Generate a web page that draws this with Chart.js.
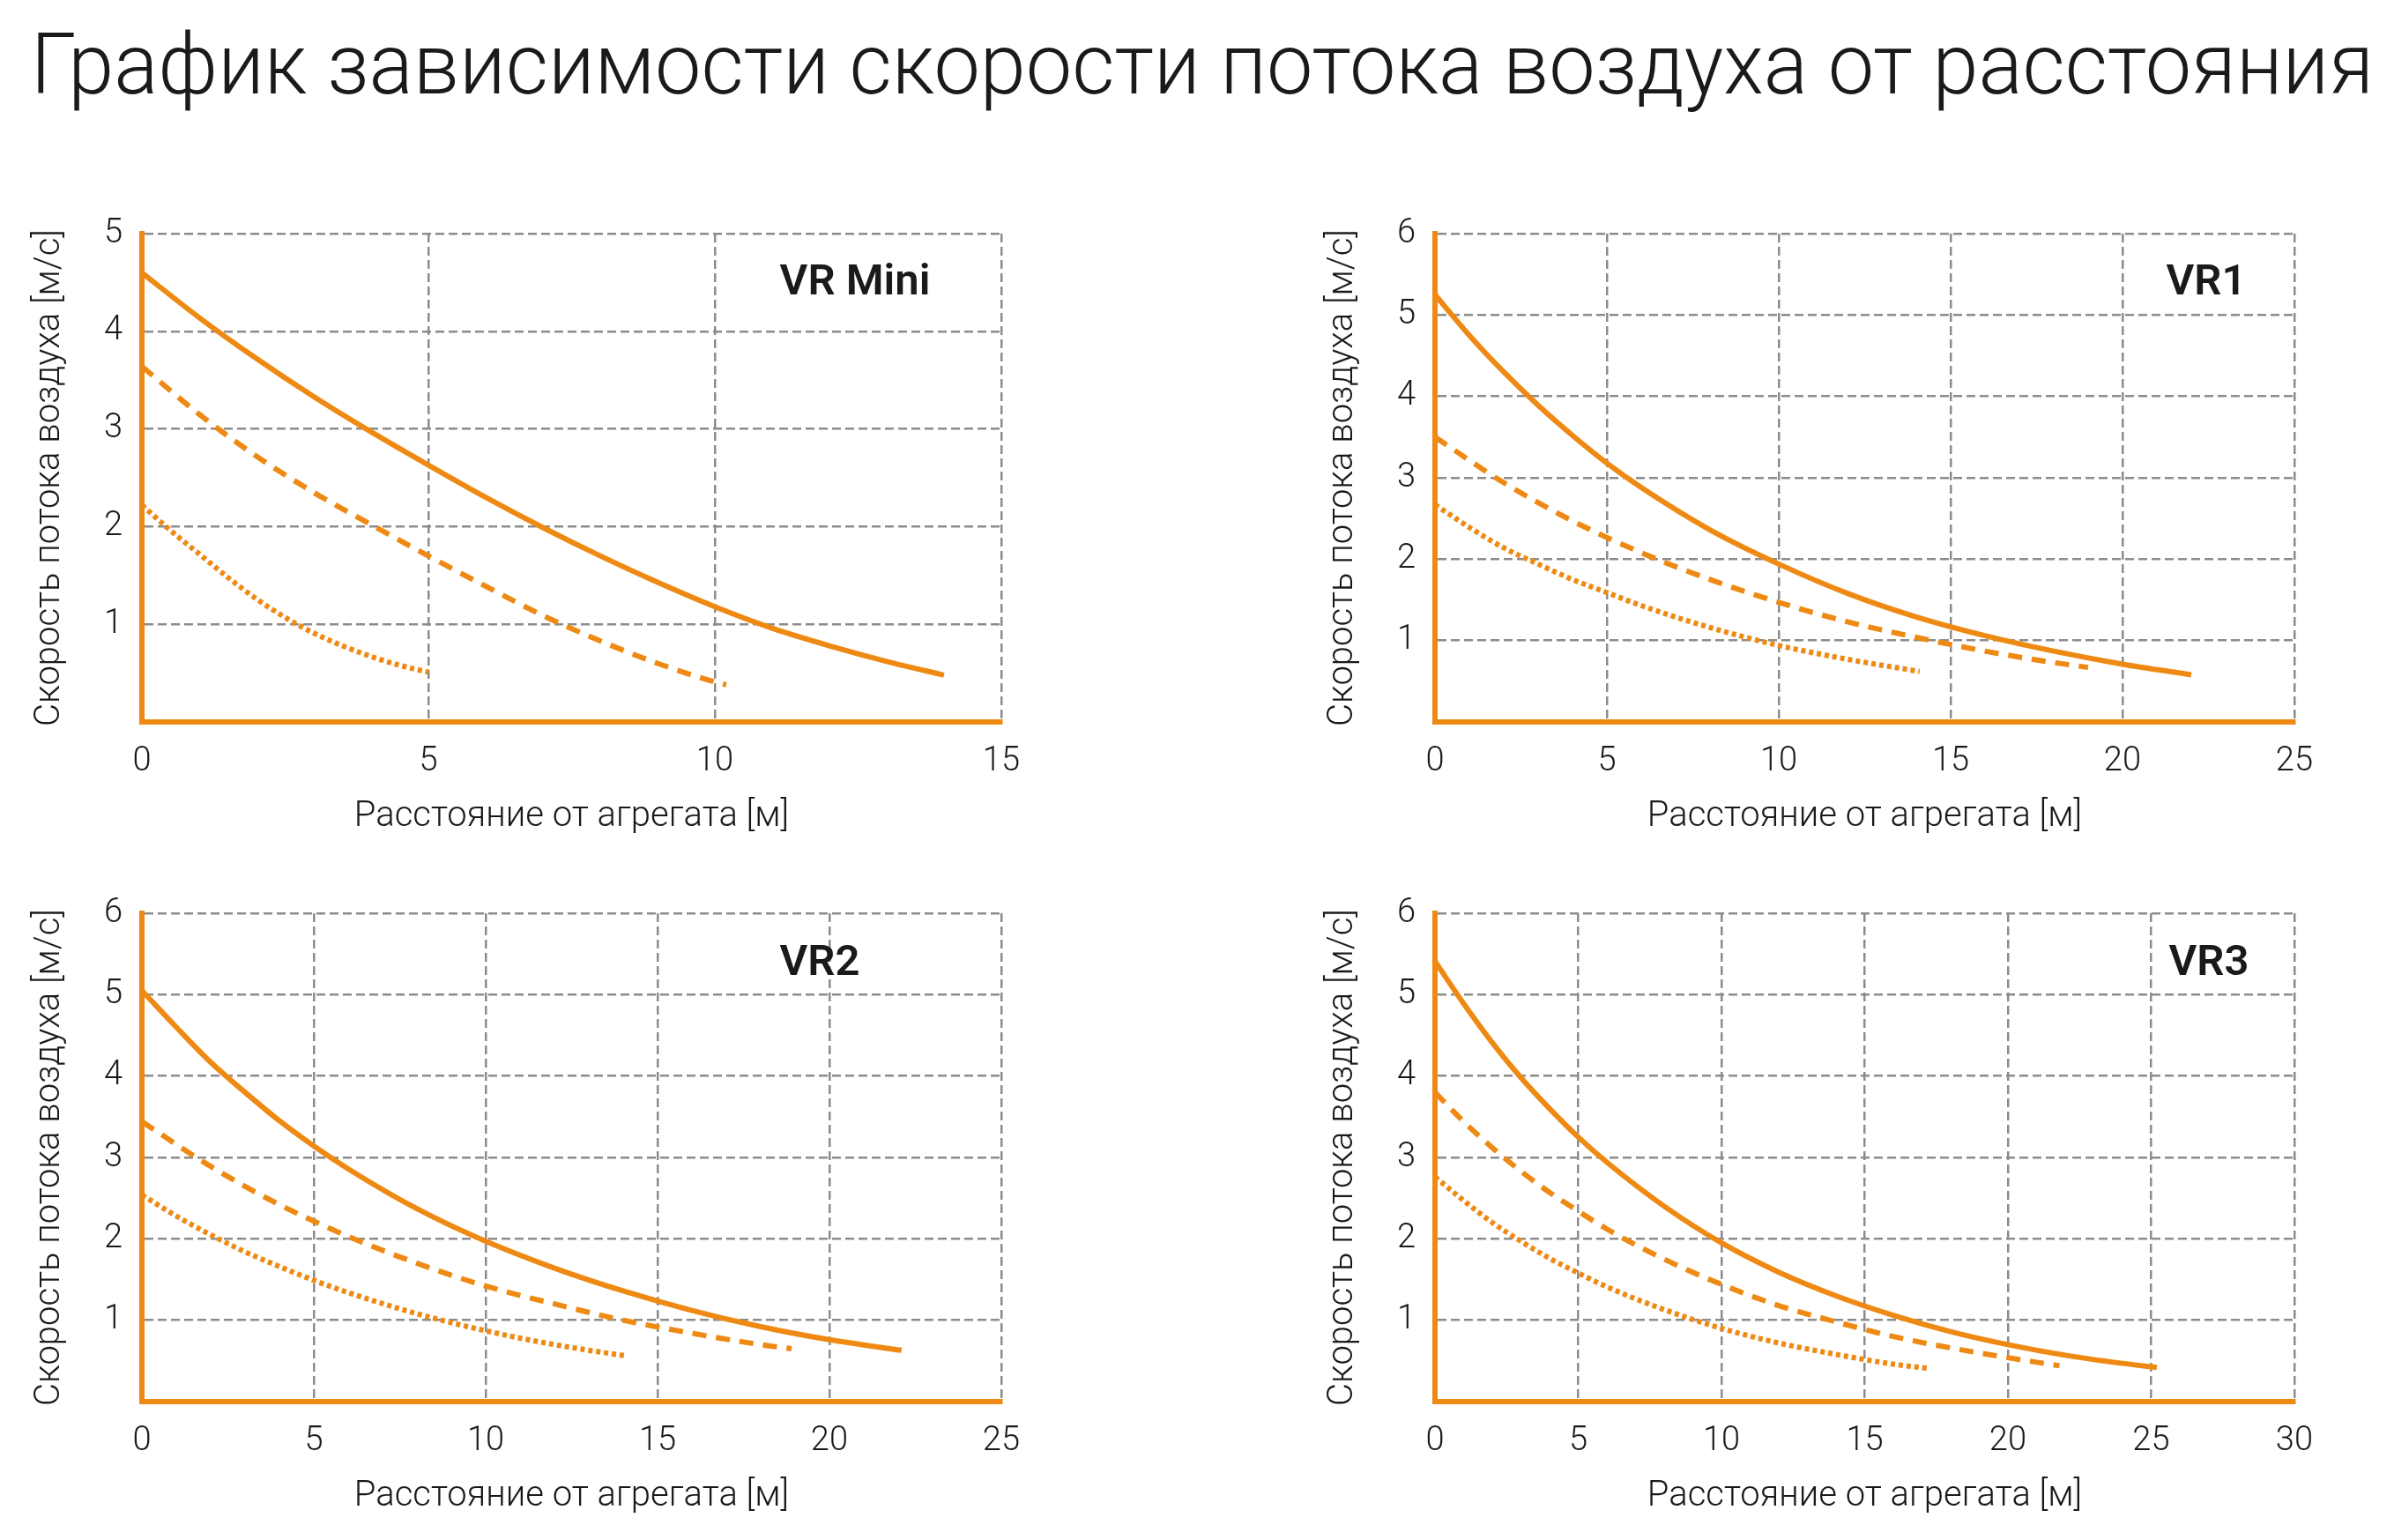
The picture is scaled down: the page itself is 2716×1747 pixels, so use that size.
<!DOCTYPE html>
<html>
<head>
<meta charset="utf-8">
<script src="https://cdn.jsdelivr.net/npm/chart.js@4/dist/chart.umd.min.js"></script>
<style>
  body { margin: 0; width: 2716px; height: 1747px; background: #fff; position: relative; overflow: hidden; font-family: Roboto, "Noto Sans", sans-serif; }
  h1 { position: absolute; left: 35px; top: 25px; margin: 0; font-size: 97px; line-height: 1; font-weight: 300; color: #1a1a1a; white-space: nowrap; transform-origin: 0 0; }
  .box { position: absolute; width: 1180px; height: 739px; }
  .tag { position: absolute; transform: translate(-50%, -50%); font-size: 49px; line-height: 1; font-weight: 600; color: #1a1a1a; white-space: nowrap; }
</style>
</head>
<body>
<h1 id="title">График зависимости скорости потока воздуха от расстояния</h1>

<div class="box" style="left:0px;top:220px"><canvas id="c1"></canvas></div>
<div class="box" style="left:1467px;top:220px"><canvas id="c2"></canvas></div>
<div class="box" style="left:0px;top:991px"><canvas id="c3"></canvas></div>
<div class="box" style="left:1467px;top:991px"><canvas id="c4"></canvas></div>

<div class="tag" style="left:970px;top:317px">VR Mini</div>
<div class="tag" style="left:2503px;top:317px">VR1</div>
<div class="tag" style="left:930px;top:1089px">VR2</div>
<div class="tag" style="left:2506px;top:1089px">VR3</div>

<script>
// axis labels
const xTitle = "Расстояние от агрегата [м]";
const yTitle = "Скорость потока воздуха [м/с]";

// VR Mini
const miniSolidX = [0, 1, 2, 3, 4, 5, 6, 7, 8, 9, 10, 11, 12, 13, 14];
const miniSolidY = [4.6, 4.14, 3.72, 3.33, 2.97, 2.63, 2.3, 1.99, 1.7, 1.43, 1.18, 0.96, 0.78, 0.62, 0.48];
const miniDashX = [0, 1, 2, 3, 4, 5, 6, 7, 8, 9, 10, 10.2];
const miniDashY = [3.64, 3.15, 2.72, 2.35, 2.02, 1.7, 1.39, 1.09, 0.83, 0.6, 0.41, 0.38];
const miniDotX = [0, 0.5, 1, 1.5, 2, 2.5, 3, 3.5, 4, 4.5, 5];
const miniDotY = [2.22, 1.96, 1.72, 1.48, 1.26, 1.07, 0.91, 0.78, 0.67, 0.58, 0.51];

// VR1
const vr1SolidX = [0, 1, 2, 3, 4, 5, 6, 8, 10, 12, 14, 16, 18, 20, 22];
const vr1SolidY = [5.25, 4.75, 4.3, 3.89, 3.52, 3.18, 2.88, 2.36, 1.94, 1.58, 1.29, 1.06, 0.87, 0.71, 0.58];
const vr1DashX = [0, 2, 4, 6, 8, 10, 12, 14, 16, 18, 19];
const vr1DashY = [3.5, 2.94, 2.47, 2.08, 1.75, 1.47, 1.23, 1.04, 0.87, 0.73, 0.67];
const vr1DotX = [0, 1, 2, 3, 4, 5, 6, 8, 10, 12, 14.1];
const vr1DotY = [2.67, 2.39, 2.14, 1.94, 1.75, 1.59, 1.43, 1.16, 0.94, 0.77, 0.62];

// VR2
const vr2SolidX = [0, 1, 2, 3, 4, 5, 6, 8, 10, 12, 14, 16, 18, 20, 22.1];
const vr2SolidY = [5.05, 4.6, 4.17, 3.8, 3.45, 3.14, 2.86, 2.37, 1.97, 1.64, 1.36, 1.12, 0.92, 0.76, 0.63];
const vr2DashX = [0, 2, 4, 6, 8, 10, 12, 14, 16, 18, 18.9];
const vr2DashY = [3.44, 2.89, 2.42, 2.03, 1.7, 1.42, 1.2, 1.0, 0.84, 0.7, 0.65];
const vr2DotX = [0, 1, 2, 3, 4, 5, 6, 8, 10, 12, 14.1];
const vr2DotY = [2.54, 2.28, 2.05, 1.84, 1.66, 1.49, 1.34, 1.08, 0.87, 0.7, 0.56];

// VR3
const vr3SolidX = [0, 1, 2, 3, 4, 5, 6, 8, 10, 12, 14, 16, 18, 20, 22, 24, 25.2];
const vr3SolidY = [5.41, 4.89, 4.41, 3.98, 3.6, 3.25, 2.94, 2.4, 1.95, 1.59, 1.3, 1.06, 0.86, 0.7, 0.57, 0.47, 0.42];
const vr3DashX = [0, 1, 2, 3, 4, 5, 6, 8, 10, 12, 14, 16, 18, 20, 21.8];
const vr3DashY = [3.8, 3.44, 3.12, 2.83, 2.57, 2.34, 2.12, 1.75, 1.44, 1.18, 0.98, 0.8, 0.66, 0.54, 0.44];
const vr3DotX = [0, 1, 2, 3, 4, 5, 6, 8, 10, 12, 14, 16, 17.2];
const vr3DotY = [2.76, 2.47, 2.2, 1.97, 1.76, 1.58, 1.41, 1.13, 0.9, 0.72, 0.58, 0.46, 0.41];

const ORANGE = "#EE8A13";
const GRID = "#8c8c8c";
const INK = "#1a1a1a";

function pts(xs, ys) {
  return xs.map((x, i) => ({ x: x, y: ys[i] }));
}

function line(xs, ys, dash) {
  return {
    data: pts(xs, ys),
    borderColor: ORANGE,
    borderWidth: 6,
    borderDash: dash,
    borderCapStyle: "butt",
    pointRadius: 0,
    fill: false,
    cubicInterpolationMode: "monotone"
  };
}

function makeChart(id, xMax, xStep, yMax, sets) {
  new Chart(document.getElementById(id), {
    type: "line",
    data: {
      datasets: [
        line(sets[0], sets[1], []),
        line(sets[2], sets[3], [16, 11]),
        line(sets[4], sets[5], [5, 4])
      ]
    },
    options: {
      responsive: true,
      maintainAspectRatio: false,
      animation: false,
      layout: { padding: { left: 20, right: 41, top: 45, bottom: 5 } },
      plugins: { legend: { display: false }, tooltip: { enabled: false } },
      scales: {
        x: {
          type: "linear",
          min: 0, max: xMax,
          afterFit: s => { s.height = 135; },
          ticks: { stepSize: xStep, autoSkip: false, maxRotation: 0, padding: 23, color: INK, font: { family: "Roboto", size: 38, weight: 300 } },
          grid: { color: GRID, lineWidth: 2.5, drawTicks: false },
          border: { color: ORANGE, width: 6, dash: [10, 5] },
          title: { display: true, text: xTitle, color: INK, padding: { top: 0, bottom: 3 }, font: { family: "Roboto", size: 40, weight: 300 } }
        },
        y: {
          min: 0, max: yMax,
          afterFit: s => { s.width = 141; },
          ticks: {
            stepSize: 1, padding: 22, color: INK,
            font: { family: "Roboto", size: 38, weight: 300 },
            callback: v => (v === 0 ? "" : v)
          },
          grid: { color: GRID, lineWidth: 2.5, drawTicks: false },
          border: { color: ORANGE, width: 6, dash: [10, 5] },
          title: { display: true, text: yTitle, color: INK, padding: { top: 13, bottom: 0 }, font: { family: "Roboto", size: 40, weight: 300 } }
        }
      }
    }
  });
}

makeChart("c1", 15, 5, 5, [miniSolidX, miniSolidY, miniDashX, miniDashY, miniDotX, miniDotY]);
makeChart("c2", 25, 5, 6, [vr1SolidX, vr1SolidY, vr1DashX, vr1DashY, vr1DotX, vr1DotY]);
makeChart("c3", 25, 5, 6, [vr2SolidX, vr2SolidY, vr2DashX, vr2DashY, vr2DotX, vr2DotY]);
makeChart("c4", 30, 5, 6, [vr3SolidX, vr3SolidY, vr3DashX, vr3DashY, vr3DotX, vr3DotY]);

// squeeze the heading to the reference width
const title = document.getElementById("title");
const tw = title.getBoundingClientRect().width;
title.style.transform = "scaleX(" + (2658 / tw) + ")";
</script>
</body>
</html>
